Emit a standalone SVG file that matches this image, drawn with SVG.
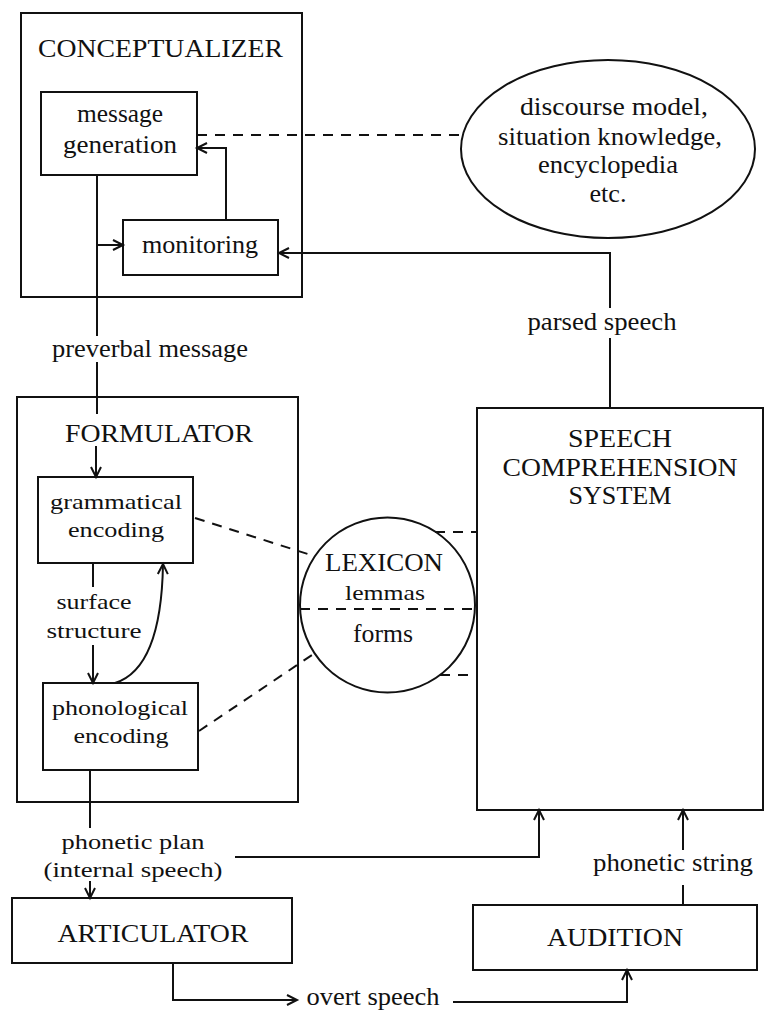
<svg xmlns="http://www.w3.org/2000/svg" width="774" height="1015" viewBox="0 0 774 1015">
<style>
  .box { fill: none; stroke: #111; stroke-width: 2; }
  .ln { fill: none; stroke: #111; stroke-width: 2; }
  .arr { fill: none; stroke: #111; stroke-width: 2; marker-end: url(#ah); }
  .dash { fill: none; stroke: #111; stroke-width: 2; stroke-dasharray: 10 8; }
  text { font-family: "Liberation Serif", "Times New Roman", serif; fill: #111; text-anchor: middle; }
  .t { font-size: 25px; }
  .s { font-size: 22px; }
  .cap { font-size: 26px; }
</style>
<defs>
  <marker id="ah" viewBox="0 0 12 12" refX="11" refY="6" markerWidth="12" markerHeight="12" markerUnits="userSpaceOnUse" orient="auto" overflow="visible">
    <path d="M1,1 L11,6 L1,11" fill="none" stroke="#111" stroke-width="2"/>
  </marker>
</defs>
<rect width="774" height="1015" fill="#fff"/>

<g id="conceptualizer">
  <rect class="box" x="21" y="13" width="281" height="284"/>
  <text class="cap" x="160.5" y="57" textLength="245" lengthAdjust="spacingAndGlyphs">CONCEPTUALIZER</text>
</g>
<g id="message-generation">
  <rect class="box" x="41" y="92" width="156" height="83"/>
  <text class="t" x="120" y="122" textLength="86" lengthAdjust="spacingAndGlyphs">message</text>
  <text class="t" x="120" y="153" textLength="114" lengthAdjust="spacingAndGlyphs">generation</text>
</g>
<g id="monitoring">
  <rect class="box" x="123" y="220" width="155" height="55"/>
  <text class="t" x="200" y="253" textLength="116" lengthAdjust="spacingAndGlyphs">monitoring</text>
</g>
<g id="knowledge">
  <ellipse class="box" cx="608" cy="149" rx="147" ry="89"/>
  <text class="t" x="614" y="115" textLength="188" lengthAdjust="spacingAndGlyphs">discourse model,</text>
  <text class="t" x="610" y="145" textLength="224" lengthAdjust="spacingAndGlyphs">situation knowledge,</text>
  <text class="t" x="608" y="173" textLength="140" lengthAdjust="spacingAndGlyphs">encyclopedia</text>
  <text class="t" x="608" y="202" textLength="37" lengthAdjust="spacingAndGlyphs">etc.</text>
</g>
<g id="formulator">
  <rect class="box" x="17" y="397" width="281" height="405"/>
  <text class="cap" x="159" y="442" textLength="188" lengthAdjust="spacingAndGlyphs">FORMULATOR</text>
</g>
<g id="grammatical-encoding">
  <rect class="box" x="38" y="477" width="155" height="86"/>
  <text class="s" x="116" y="509" textLength="132" lengthAdjust="spacingAndGlyphs">grammatical</text>
  <text class="s" x="116" y="537" textLength="96" lengthAdjust="spacingAndGlyphs">encoding</text>
</g>
<g id="phonological-encoding">
  <rect class="box" x="43" y="683" width="155" height="87"/>
  <text class="s" x="120" y="715" textLength="136" lengthAdjust="spacingAndGlyphs">phonological</text>
  <text class="s" x="121" y="743" textLength="95" lengthAdjust="spacingAndGlyphs">encoding</text>
</g>
<g id="lexicon">
  <circle class="box" cx="387.5" cy="605" r="87.5"/>
  <text class="cap" x="384" y="571" textLength="118" lengthAdjust="spacingAndGlyphs">LEXICON</text>
  <text class="s" x="385" y="600" textLength="80" lengthAdjust="spacingAndGlyphs">lemmas</text>
  <line class="dash" x1="300" y1="609" x2="477" y2="609"/>
  <text class="t" x="383" y="642" textLength="60" lengthAdjust="spacingAndGlyphs">forms</text>
</g>
<g id="speech-comprehension">
  <rect class="box" x="477" y="408" width="286" height="402"/>
  <text class="cap" x="620" y="447" textLength="104" lengthAdjust="spacingAndGlyphs">SPEECH</text>
  <text class="cap" x="620" y="476" textLength="235" lengthAdjust="spacingAndGlyphs">COMPREHENSION</text>
  <text class="cap" x="620" y="504" textLength="103" lengthAdjust="spacingAndGlyphs">SYSTEM</text>
</g>
<g id="articulator">
  <rect class="box" x="12" y="898" width="280" height="65"/>
  <text class="cap" x="153" y="942" textLength="191" lengthAdjust="spacingAndGlyphs">ARTICULATOR</text>
</g>
<g id="audition">
  <rect class="box" x="473" y="905" width="284" height="65"/>
  <text class="cap" x="615" y="946" textLength="136" lengthAdjust="spacingAndGlyphs">AUDITION</text>
</g>

<g id="connectors">
  <line class="dash" x1="197" y1="135" x2="462" y2="135"/>
  <line class="ln" x1="97" y1="175" x2="97" y2="336"/>
  <line class="arr" x1="97" y1="245" x2="123" y2="245"/>
  <text class="t" x="150" y="357" textLength="196" lengthAdjust="spacingAndGlyphs">preverbal message</text>
  <line class="ln" x1="97" y1="362" x2="97" y2="414"/>
  <line class="arr" x1="96" y1="446" x2="96" y2="477"/>
  <polyline class="arr" points="226,220 226,148 197,148"/>
  <polyline class="arr" points="610,408 610,253 279,253"/>
  <rect x="524" y="308" width="158" height="30" fill="#fff"/>
  <text class="t" x="602" y="330" textLength="149" lengthAdjust="spacingAndGlyphs">parsed speech</text>
  <line class="ln" x1="93" y1="563" x2="93" y2="587"/>
  <text class="s" x="94" y="609" textLength="75" lengthAdjust="spacingAndGlyphs">surface</text>
  <text class="s" x="94" y="638" textLength="95" lengthAdjust="spacingAndGlyphs">structure</text>
  <line class="arr" x1="93" y1="645" x2="93" y2="683"/>
  <path class="arr" d="M115,683 C150,672 162,625 163,564"/>
  <line class="dash" x1="195" y1="518" x2="314" y2="556"/>
  <line class="dash" x1="199" y1="731" x2="315" y2="653"/>
  <line class="dash" x1="435" y1="532" x2="477" y2="532"/>
  <line class="dash" x1="440" y1="675" x2="477" y2="675"/>
  <line class="ln" x1="90" y1="770" x2="90" y2="828"/>
  <text class="s" x="133" y="849" textLength="143" lengthAdjust="spacingAndGlyphs">phonetic plan</text>
  <text class="s" x="133" y="877" textLength="179" lengthAdjust="spacingAndGlyphs">(internal speech)</text>
  <line class="arr" x1="90" y1="881" x2="90" y2="898"/>
  <polyline class="arr" points="235,857 539,857 539,810"/>
  <line class="ln" x1="683" y1="905" x2="683" y2="885"/>
  <text class="t" x="673" y="871" textLength="160" lengthAdjust="spacingAndGlyphs">phonetic string</text>
  <line class="arr" x1="683" y1="850" x2="683" y2="810"/>
  <polyline class="arr" points="173,963 173,1000 297,1000"/>
  <text class="t" x="373" y="1005" textLength="133" lengthAdjust="spacingAndGlyphs">overt speech</text>
  <polyline class="arr" points="453,1002 627,1002 627,970"/>
</g>
</svg>
